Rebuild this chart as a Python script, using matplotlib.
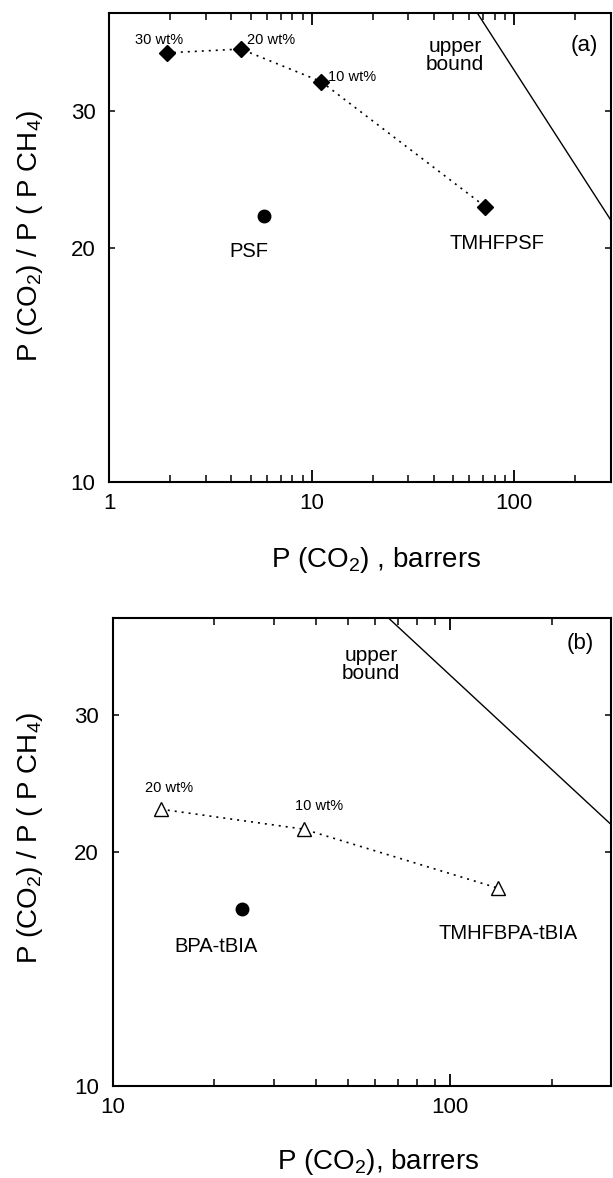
import matplotlib
matplotlib.use("Agg")
import matplotlib.pyplot as plt
from matplotlib.ticker import LogLocator, NullLocator, FixedLocator, FixedFormatter

plt.rcParams['font.family'] = ['Liberation Sans', 'DejaVu Sans']
plt.rcParams['mathtext.fontset'] = 'custom'
plt.rcParams['mathtext.rm'] = 'Liberation Sans'
plt.rcParams['mathtext.it'] = 'Liberation Sans'

# (a) polysulfone blends
psf_blend_x = [1.92, 4.46, 11.1, 71.7]
psf_blend_y = [35.6, 36.0, 32.7, 22.6]
psf_blend_labels = ["30 wt%", "20 wt%", "10 wt%"]
psf_x = [5.8]
psf_y = [22.0]

# (b) polyarylate blends
bpa_blend_x = [13.9, 36.8, 138.9]
bpa_blend_y = [22.7, 21.4, 17.96]
bpa_blend_labels = ["20 wt%", "10 wt%"]
bpa_x = [24.2]
bpa_y = [16.9]

# upper bound line (end points)
upper_bound_x = [65, 300]
upper_bound_y = [40.2, 21.7]

ylabel = "P (CO$_2$) / P ( P CH$_4$)"


def style_axes(ax, xmin, xmax, xticks):
    ax.set_xscale('log')
    ax.set_yscale('log')
    ax.set_xlim(xmin, xmax)
    ax.set_ylim(10, 40)
    ax.xaxis.set_major_locator(FixedLocator(xticks))
    ax.xaxis.set_major_formatter(FixedFormatter([str(t) for t in xticks]))
    ax.xaxis.set_minor_locator(LogLocator(base=10, subs=range(2, 10)))
    ax.xaxis.set_minor_formatter(FixedFormatter([]))
    ax.yaxis.set_major_locator(FixedLocator([10, 20, 30]))
    ax.yaxis.set_major_formatter(FixedFormatter(["10", "20", "30"]))
    ax.yaxis.set_minor_locator(NullLocator())
    ax.tick_params(axis='x', which='major', direction='in', top=True, length=8.5,
                   width=1.3, labelsize=16, pad=8)
    ax.tick_params(axis='x', which='minor', direction='in', top=True, length=5, width=1.1)
    ax.tick_params(axis='y', which='major', direction='in', right=True, length=4,
                   width=1.1, labelsize=16, pad=10)
    for s in ax.spines.values():
        s.set_linewidth(1.5)
    ax.set_ylabel(ylabel, fontsize=20)


fig = plt.figure(figsize=(6.13, 11.78), dpi=100)

# panel (a)
ax1 = fig.add_axes([0.1786, 0.5906, 0.818, 0.398])
style_axes(ax1, 1, 300, [1, 10, 100])
ax1.plot(upper_bound_x, upper_bound_y, color='black', lw=1.0)
ax1.plot(psf_blend_x, psf_blend_y, linestyle=(0, (1.2, 3)), color='black', lw=1.2,
         marker='D', ms=8.5, mfc='black', mec='black')
ax1.plot(psf_x, psf_y, 'o', color='black', ms=9)
ax1.text(0.0997, 0.943, psf_blend_labels[0], transform=ax1.transAxes, fontsize=10.5,
         ha='center', va='center')
ax1.text(0.323, 0.943, psf_blend_labels[1], transform=ax1.transAxes, fontsize=10.5,
         ha='center', va='center')
ax1.text(0.483, 0.865, psf_blend_labels[2], transform=ax1.transAxes, fontsize=10.5,
         ha='center', va='center')
ax1.text(0.689, 0.911, "upper\nbound", transform=ax1.transAxes, fontsize=15,
         ha='center', va='center', linespacing=0.95)
ax1.text(0.278, 0.492, "PSF", transform=ax1.transAxes, fontsize=14.5,
         ha='center', va='center')
ax1.text(0.772, 0.510, "TMHFPSF", transform=ax1.transAxes, fontsize=14.5,
         ha='center', va='center')
ax1.text(0.947, 0.932, "(a)", transform=ax1.transAxes, fontsize=16,
         ha='center', va='center')
ax1.set_xlabel("P (CO$_2$) , barrers", fontsize=20)
ax1.xaxis.set_label_coords(0.531, -0.134)
ax1.yaxis.set_label_coords(-0.128, 0.525)

# panel (b)
ax2 = fig.add_axes([0.1837, 0.0784, 0.813, 0.3968])
style_axes(ax2, 10, 300, [10, 100])
ax2.plot(upper_bound_x, upper_bound_y, color='black', lw=1.0)
ax2.plot(bpa_blend_x, bpa_blend_y, linestyle=(0, (1.2, 3)), color='black', lw=1.2,
         marker='^', ms=10, mfc='white', mec='black', mew=1.0)
ax2.plot(bpa_x, bpa_y, 'o', color='black', ms=9)
ax2.text(0.113, 0.636, bpa_blend_labels[0], transform=ax2.transAxes, fontsize=10.5,
         ha='center', va='center')
ax2.text(0.415, 0.599, bpa_blend_labels[1], transform=ax2.transAxes, fontsize=10.5,
         ha='center', va='center')
ax2.text(0.518, 0.901, "upper\nbound", transform=ax2.transAxes, fontsize=15,
         ha='center', va='center', linespacing=0.95)
ax2.text(0.207, 0.297, "BPA-tBIA", transform=ax2.transAxes, fontsize=14.5,
         ha='center', va='center')
ax2.text(0.794, 0.325, "TMHFBPA-tBIA", transform=ax2.transAxes, fontsize=14.5,
         ha='center', va='center')
ax2.text(0.939, 0.9465, "(b)", transform=ax2.transAxes, fontsize=16,
         ha='center', va='center')
ax2.set_xlabel("P (CO$_2$), barrers", fontsize=20)
ax2.xaxis.set_label_coords(0.5335, -0.1305)
ax2.yaxis.set_label_coords(-0.135, 0.53)

fig.savefig("out.png", dpi=100)
